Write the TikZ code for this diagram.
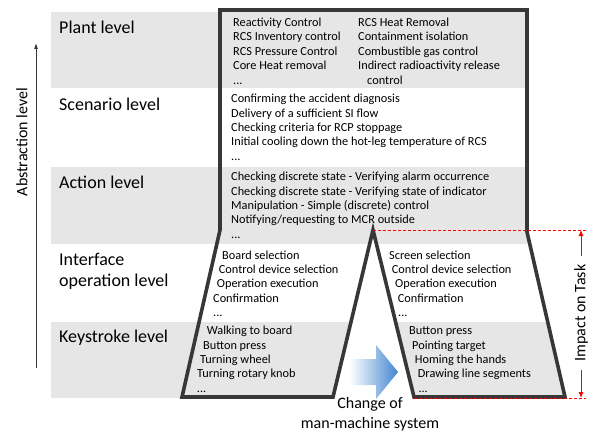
\documentclass[tikz,border=0pt]{standalone}
\usepackage{fontspec}
\setmainfont{Carlito}
\usetikzlibrary{arrows.meta}
\definecolor{bandgray}{RGB}{230,230,230}
\definecolor{edgegray}{RGB}{55,55,55}
\definecolor{arrowblue}{RGB}{66,134,206}

\begin{document}
\begin{tikzpicture}[x=1pt, y=-1pt,
  myedgestyle/.style={draw=edgegray, line width=3.6pt, line join=miter},
  mylevelstyle/.style={anchor=base west, inner sep=0pt, font=\fontsize{18}{21.6}\selectfont},
  myitemstyle/.style={anchor=base west, inner sep=0pt, font=\fontsize{12.3}{14.4}\selectfont},
  myredstyle/.style={draw=red, line width=0.6pt, densely dashed},
  myimpactstyle/.style={draw=red, line width=0.8pt, -{Latex[length=6pt, width=5pt]}}]
  \useasboundingbox (0,0) rectangle (593,436);

  \begin{scope}
    \clip (51,10) -- (527,10) -- (527,232) -- (565,398) -- (414,398) -- (373,230)
      -- (333,398) -- (51,398) -- cycle;
    \fill[bandgray] (51,12) rectangle (570,88);
    \fill[bandgray] (51,167) rectangle (570,244);
    \fill[bandgray] (51,322) rectangle (570,399);
  \end{scope}

  \node[mylevelstyle] (plant) at (59,33.3) {Plant level};
  \node[mylevelstyle] (scenario) at (59,110) {Scenario level};
  \node[mylevelstyle] (action) at (59,188) {Action level};
  \node[mylevelstyle] (interface) at (59,265) {Interface};
  \node[mylevelstyle] (operation) at (59,286.7) {operation level};
  \node[mylevelstyle] (keystroke) at (59,342.7) {Keystroke level};

  \node[myitemstyle] (plant1) at (233,26.5) {Reactivity Control};
  \node[myitemstyle] (plant2) at (233,41) {RCS Inventory control};
  \node[myitemstyle] (plant3) at (233,55.3) {RCS Pressure Control};
  \node[myitemstyle] (plant4) at (233,69.7) {Core Heat removal};
  \node[myitemstyle] (plant5) at (233,84) {...};
  \node[myitemstyle] (plantb1) at (358,26.5) {RCS Heat Removal};
  \node[myitemstyle] (plantb2) at (358,41) {Containment isolation};
  \node[myitemstyle] (plantb3) at (358,55.3) {Combustible gas control};
  \node[myitemstyle] (plantb4) at (358,69.7) {Indirect radioactivity release};
  \node[myitemstyle] (plantb5) at (367,84) {control};

  \node[myitemstyle] (scen1) at (231,102.7) {Confirming the accident diagnosis};
  \node[myitemstyle] (scen2) at (231,117.1) {Delivery of a sufficient SI flow};
  \node[myitemstyle] (scen3) at (231,131.5) {Checking criteria for RCP stoppage};
  \node[myitemstyle] (scen4) at (231,145.9) {Initial cooling down the hot-leg temperature of RCS};
  \node[myitemstyle] (scen5) at (231,160.3) {...};

  \node[myitemstyle] (act1) at (231,180.7) {Checking discrete state - Verifying alarm occurrence};
  \node[myitemstyle] (act2) at (231,195.1) {Checking discrete state - Verifying state of indicator};
  \node[myitemstyle] (act3) at (231,209.5) {Manipulation - Simple (discrete) control};
  \node[myitemstyle] (act4) at (231,223.9) {Notifying/requesting to MCR outside};
  \node[myitemstyle] (act5) at (231,238.3) {...};

  \node[myitemstyle] (ifl1) at (222,259) {Board selection};
  \node[myitemstyle] (ifl2) at (218.7,273.4) {Control device selection};
  \node[myitemstyle] (ifl3) at (216.7,287.8) {Operation execution};
  \node[myitemstyle] (ifl4) at (213,302.2) {Confirmation};
  \node[myitemstyle] (ifl5) at (213,316.6) {...};
  \node[myitemstyle] (ifr1) at (389,259) {Screen selection};
  \node[myitemstyle] (ifr2) at (391.7,273.4) {Control device selection};
  \node[myitemstyle] (ifr3) at (395,287.8) {Operation execution};
  \node[myitemstyle] (ifr4) at (397.7,302.2) {Confirmation};
  \node[myitemstyle] (ifr5) at (398,316.6) {...};

  \node[myitemstyle] (ksl1) at (206.7,334.7) {Walking to board};
  \node[myitemstyle] (ksl2) at (203,349.1) {Button press};
  \node[myitemstyle] (ksl3) at (200,363.5) {Turning wheel};
  \node[myitemstyle] (ksl4) at (197,377.9) {Turning rotary knob};
  \node[myitemstyle] (ksl5) at (196.7,392.3) {...};
  \node[myitemstyle] (ksr1) at (409,334.7) {Button press};
  \node[myitemstyle] (ksr2) at (412,349.1) {Pointing target};
  \node[myitemstyle] (ksr3) at (414.7,363.5) {Homing the hands};
  \node[myitemstyle] (ksr4) at (417.7,377.9) {Drawing line segments};
  \node[myitemstyle] (ksr5) at (418.3,392.3) {...};

  \draw[myedgestyle] (220,10) -- (527,10) -- (527,232) -- (565,397) -- (414,397)
    -- (373,230) -- (333,397) -- (182,397) -- (220,230) -- cycle;

  \shade[left color=white, right color=arrowblue] (350,359) -- (376,359) -- (376,345)
    -- (398,372) -- (376,399) -- (376,385) -- (350,385) -- cycle;
  \node[align=center, inner sep=0pt, font=\fontsize{16}{19.5}\selectfont] (change) at (370,414)
    {Change of\\man-machine system};

  \coordinate (abstop) at (36,43);
  \coordinate (absbot) at (36,368);
  \draw[edgegray, line width=0.8pt, -{Latex[length=6pt, width=4pt]}] (absbot) -- (abstop);
  \node[rotate=90, font=\fontsize{16}{19.2}\selectfont] (abstraction) at (22,142) {Abstraction level};

  \coordinate (peak) at (373,230);
  \coordinate (impacttop) at (581,230);
  \coordinate (impactbot) at (581,398);
  \draw[myredstyle] (peak) -- (586,230);
  \draw[myredstyle] (414,398) -- (586,398);
  \node[rotate=90, inner xsep=8pt, inner ysep=0pt, font=\fontsize{16}{19.2}\selectfont] (impact) at (581,313) {Impact on Task};
  \draw[myimpactstyle] (impact.east) -- (impacttop);
  \draw[myimpactstyle] (impact.west) -- (impactbot);
\end{tikzpicture}
\end{document}
